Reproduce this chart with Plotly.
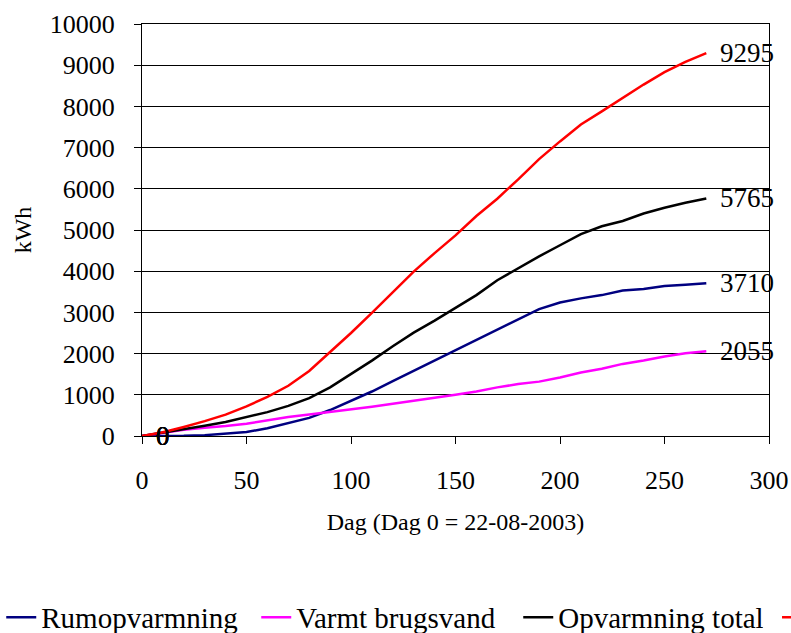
import plotly.graph_objects as go

days = [0, 10, 20, 30, 40, 50, 60, 70, 80, 90, 100, 110, 120, 130, 140,
        150, 160, 170, 180, 190, 200, 210, 220, 230, 240, 250, 260, 270]

rumopvarmning = [0, 0, 5, 20, 50, 95, 190, 310, 440, 630, 860, 1080, 1330, 1580, 1830,
                 2080, 2330, 2590, 2830, 3080, 3240, 3340, 3420, 3530, 3570, 3640, 3670, 3710]
varmt_brugsvand = [0, 80, 150, 200, 240, 300, 380, 460, 520, 580, 640, 710, 780, 850, 920,
                   1000, 1080, 1180, 1260, 1320, 1420, 1540, 1630, 1750, 1830, 1930, 2010, 2055]
opvarmning_total = [0, 80, 160, 250, 340, 460, 580, 730, 920, 1180, 1500, 1830, 2180, 2510, 2800,
                    3100, 3420, 3780, 4080, 4360, 4630, 4900, 5090, 5220, 5400, 5540, 5660, 5765]
total = [0, 90, 220, 360, 520, 720, 950, 1220, 1580, 2030, 2500, 2990, 3500, 3990, 4440,
         4870, 5340, 5760, 6230, 6720, 7150, 7560, 7880, 8210, 8530, 8830, 9080, 9295]

series_names = ["Rumopvarmning", "Varmt brugsvand", "Opvarmning total", "Total"]
series_values = [rumopvarmning, varmt_brugsvand, opvarmning_total, total]
series_colors = ["#000080", "#FF00FF", "#000000", "#FF0000"]
legend_item_widths = [210, 217, 200, 60]

x_ticks = [0, 50, 100, 150, 200, 250, 300]
y_ticks = [0, 1000, 2000, 3000, 4000, 5000, 6000, 7000, 8000, 9000, 10000]
y_tick_labels = [str(v) for v in y_ticks]

FONT = "Liberation Serif"

fig = go.Figure()
for i, (name, vals, col) in enumerate(zip(series_names, series_values, series_colors)):
    fig.add_trace(go.Scatter(
        x=days, y=vals, mode="lines", name=name,
        line=dict(color=col, width=2.5),
        legend="legend2" if i == 3 else "legend",
        legendwidth=legend_item_widths[i],
    ))

# data labels at first and last point of each series
for vals in series_values:
    for idx in (0, -1):
        fig.add_annotation(
            x=days[idx], y=vals[idx], text=f"{vals[idx]}",
            showarrow=False, xanchor="left", yanchor="middle", xshift=12,
            font=dict(family=FONT, size=27, color="black"),
        )

axis_common = dict(
    showline=True, linecolor="black", linewidth=1, mirror=True,
    ticks="outside", ticklen=7, tickcolor="black", tickwidth=1,
    tickfont=dict(family=FONT, size=26, color="black"),
    zeroline=False,
)

fig.update_xaxes(
    range=[0, 300], tickvals=x_ticks, ticktext=[str(v) for v in x_ticks], showgrid=False,
    title=dict(text="Dag (Dag 0 = 22-08-2003)", font=dict(family=FONT, size=24, color="black"), standoff=18),
    ticklabelstandoff=14,
    **axis_common,
)
fig.update_yaxes(
    range=[0, 10000], tickvals=y_ticks, ticktext=y_tick_labels,
    showgrid=True, gridcolor="black", gridwidth=1,
    title=dict(text="kWh", font=dict(family=FONT, size=24, color="black"), standoff=11),
    ticklabelstandoff=14,
    **axis_common,
)

legend_common = dict(
    orientation="h", xanchor="left", yanchor="middle",
    font=dict(family=FONT, size=29, color="black"),
    bgcolor="rgba(0,0,0,0)", borderwidth=0,
)

fig.update_layout(
    width=791, height=633,
    margin=dict(l=142, r=22, t=24, b=197, autoexpand=False),
    paper_bgcolor="white", plot_bgcolor="white",
    font=dict(family=FONT, color="black"),
    showlegend=True,
    legend=dict(x=-0.2245, y=-0.44, **legend_common),
    legend2=dict(x=1.0128, y=-0.44, **legend_common),
)

fig.write_html("out.html")
